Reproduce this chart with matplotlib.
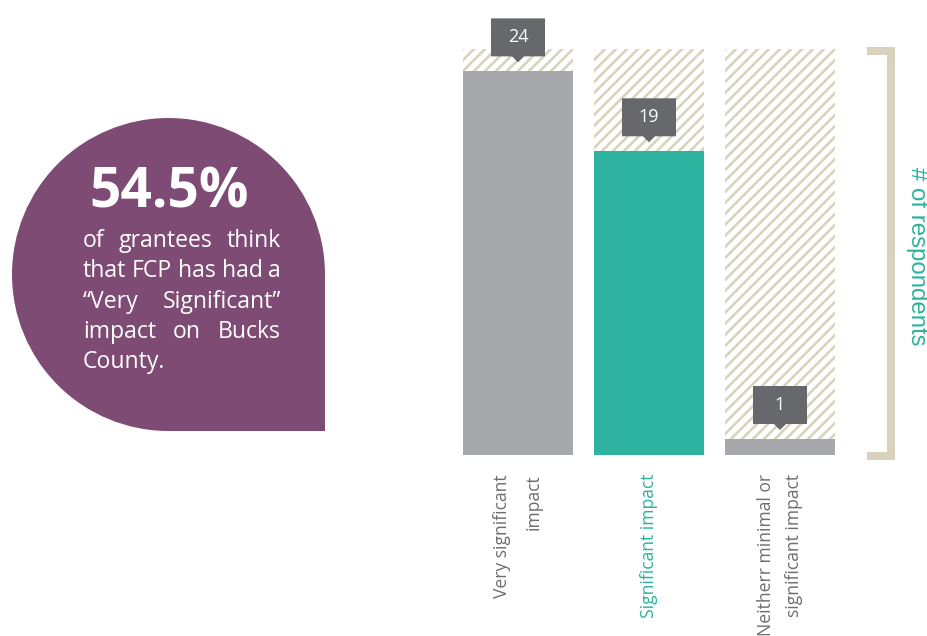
import matplotlib
matplotlib.use("Agg")
import numpy as np
import matplotlib.pyplot as plt
from matplotlib.patches import Circle, Rectangle, Polygon
from matplotlib.transforms import ScaledTranslation, IdentityTransform
from matplotlib.lines import Line2D

# impact ratings, number of grantees per answer
categories = ["Very significant\nimpact", "Significant impact",
              "Neitherr minimal or\nsignificant impact"]
respondents = [24, 19, 1]
axis_max = 25.4

headline = "54.5%"
blurb = [["of", "grantees", "think"],
         ["that", "FCP", "has", "had", "a"],
         ["\u201cVery", "Significant\u201d"],
         ["impact", "on", "Bucks"],
         ["County."]]

PURPLE = "#7e4b74"
TEAL = "#2db3a0"
BAR_GREY = "#a7a8ac"
BOX_GREY = "#67686c"
TEXT_GREY = "#6d6e71"
BEIGE = "#d9d2bc"

bar_colors = [BAR_GREY, TEAL, BAR_GREY]
label_colors = [TEXT_GREY, TEAL, TEXT_GREY]
label_spacing = [2.0, 1.2, 1.7]

plt.rcParams["font.family"] = ["Open Sans", "DejaVu Sans"]

W, H, DPI = 927, 636, 72
fig = plt.figure(figsize=(W / DPI, H / DPI), dpi=DPI)

# pixel-space overlay for the callout and the bracket
over = fig.add_axes([0, 0, 1, 1])
over.set_xlim(0, W)
over.set_ylim(H, 0)
over.axis("off")

# --- bar chart ---
ax = fig.add_axes([463 / W, (H - 455) / H, 372 / W, 406 / H])
xs = list(range(len(respondents)))
width = 0.84
backs = ax.bar(xs, [axis_max] * len(xs), width=width, color="white",
               linewidth=0, zorder=1)
ax.bar(xs, respondents, width=width, color=bar_colors, linewidth=0, zorder=2)
ax.set_xlim(-0.42, len(xs) - 1 + 0.42)
ax.set_ylim(0, axis_max)
ax.set_yticks([])
ax.set_xticks(xs, categories, rotation=90, fontsize=17.5)
ax.tick_params(axis="x", length=0, pad=19)
for lbl, c, ls in zip(ax.get_xticklabels(), label_colors, label_spacing):
    lbl.set_color(c)
    lbl.set_multialignment("right")
    lbl.set_linespacing(ls)
for s in ax.spines.values():
    s.set_visible(False)


def stripe(patch, spacing=11, lw=2.6):
    # diagonal beige stripes clipped to the full-scale background bar
    bb = patch.get_window_extent()
    h = bb.height
    for s in np.arange(bb.x0 - h, bb.x1 + spacing, spacing):
        ln = Line2D([s, s + h], [bb.y0, bb.y1], color=BEIGE, linewidth=lw,
                    transform=IdentityTransform(), zorder=1.5)
        ax.add_line(ln)
        ln.set_clip_path(patch)


for p in backs:
    stripe(p)
ax.set_xlim(-0.42, len(xs) - 1 + 0.42)
ax.set_ylim(0, axis_max)

# value callouts: box with a small pointer, offsets in pixels above the bar top
box_w, box_bot, box_top, tip, notch = 27, 15, 53, 9, 6
for i, v in enumerate(respondents):
    tr = ScaledTranslation(i, v, ax.transData)
    shape = [(-box_w, box_bot), (-notch, box_bot), (0, tip), (notch, box_bot),
             (box_w, box_bot), (box_w, box_top), (-box_w, box_top)]
    ax.add_patch(Polygon(shape, closed=True, transform=tr, facecolor=BOX_GREY,
                         edgecolor="none", clip_on=False, zorder=5))
    ax.text(0, (box_bot + box_top) / 2, str(v), transform=tr, color="white",
            fontsize=18, ha="center", va="center", zorder=6, clip_on=False)

# bracket and axis caption on the right
over.add_line(Line2D([867, 891, 891, 867], [51, 51, 456, 456], color=BEIGE,
                     linewidth=8, solid_joinstyle="miter", solid_capstyle="butt"))
over.text(917, 256, "# of respondents", rotation=-90, color=TEAL, fontsize=24,
          ha="center", va="center", family=["Liberation Sans", "DejaVu Sans"])

# --- purple callout ---
cx, cy, r = 168.5, 274.5, 156.5
over.add_patch(Circle((cx, cy), r, facecolor=PURPLE, edgecolor="none"))
over.add_patch(Rectangle((cx, cy), r, r, facecolor=PURPLE, edgecolor="none"))
over.text(89, 207, headline, color="white", fontsize=55, fontweight="bold",
          ha="left", va="baseline")

renderer = fig.canvas.get_renderer()
left, right, base, step = 83, 281, 247, 30.3
for k, words in enumerate(blurb):
    y = base + k * step
    texts = [over.text(0, y, w, color="white", fontsize=23, ha="left",
                       va="baseline") for w in words]
    widths = [t.get_window_extent(renderer).width for t in texts]
    if len(words) == 1:
        gap = 0
    else:
        gap = (right - left - sum(widths)) / (len(words) - 1)
    x = left
    for t, wd in zip(texts, widths):
        t.set_x(x)
        x += wd + gap

fig.savefig("out.png", dpi=DPI, facecolor="white")
